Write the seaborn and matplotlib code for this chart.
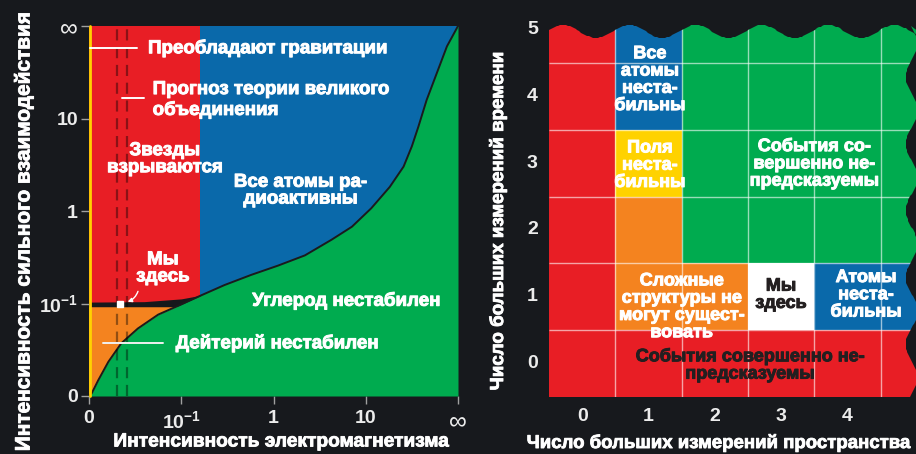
import numpy as np
import pandas as pd
import matplotlib
matplotlib.use('Agg')
import matplotlib.pyplot as plt
import matplotlib.patches as mpatches
import matplotlib.patheffects as pe
from matplotlib.path import Path
from matplotlib.colors import ListedColormap
import seaborn as sns

# colours
BG = '#17191d'
RED = '#e81e25'
BLUE = '#0a69aa'
GREEN = '#00ab4f'
ORANGE = '#f4831f'
YELLOW = '#ffd200'
WHITE = '#ffffff'
DARK = '#231f20'

# --- left panel data (axis positions 0..4 stand for 0, 0.1, 1, 10, inf)
em_labels = ['0', r'$\mathbf{10^{-1}}$', '1', '10', '∞']
strong_labels = ['0', r'$\mathbf{10^{-1}}$', '1', '10', '∞']
boundary_x = [0.0, 0.03, 0.10, 0.21, 0.35, 0.53, 0.75, 1.00, 1.22, 1.47, 1.76, 2.05, 2.34,
              2.63, 2.85, 3.06, 3.26, 3.41, 3.50, 3.57, 3.66, 3.77, 3.88, 4.0]
boundary_y = [0.0, 0.03, 0.17, 0.37, 0.57, 0.73, 0.88, 0.99, 1.09, 1.20, 1.31, 1.41, 1.52,
              1.69, 1.83, 2.03, 2.26, 2.48, 2.70, 2.91, 3.20, 3.49, 3.78, 4.0]
band_x = [0.0, 0.6, 1.0, 1.22]
band_top = [1.015, 1.02, 1.05, 1.09]
band_bottom = 0.965
red_x_max = 1.2
gut_lines = [0.30, 0.41]
us_point = (0.34, 0.99)

# --- right panel data
space_dims = [0, 1, 2, 3, 4, 5]
time_dims = [5, 4, 3, 2, 1, 0]
# 0 red, 1 blue, 2 green, 3 orange, 4 yellow, 5 white
regions = [
    [0, 1, 2, 2, 2, 2],
    [0, 1, 2, 2, 2, 2],
    [0, 4, 2, 2, 2, 2],
    [0, 3, 2, 2, 2, 2],
    [0, 3, 3, 5, 1, 1],
    [0, 0, 0, 0, 0, 0],
]

sns.set_theme(style='dark')
plt.rcParams['font.family'] = ['Liberation Sans', 'DejaVu Sans']
plt.rcParams['font.weight'] = 'bold'
plt.rcParams['mathtext.fontset'] = 'custom'
plt.rcParams['mathtext.bf'] = 'Liberation Sans:bold'
plt.rcParams['mathtext.rm'] = 'Liberation Sans:bold'

W, H = 916, 454
fig = plt.figure(figsize=(W / 100, H / 100), dpi=100, facecolor=BG)


def heavy(color, w=0.7):
    return [pe.withStroke(linewidth=w, foreground=color)]


# ================= left panel =================
ax1 = fig.add_axes([89 / W, 58 / H, 369 / W, 370 / H])
ax1.set_facecolor(BG)
ax1.set_xlim(0, 4)
ax1.set_ylim(0, 4)

ax1.add_patch(mpatches.Rectangle((0, 0), 4, 4, color=BLUE, lw=0))
ax1.add_patch(mpatches.Rectangle((0, 1.0), red_x_max, 3.0, color=RED, lw=0))
ax1.add_patch(mpatches.Rectangle((0, 0), 1.1, band_bottom, color=ORANGE, lw=0))
ax1.fill_between(band_x, band_bottom, band_top, color='#16181b', lw=0, zorder=1.5)
ax1.fill_between(boundary_x, 0, boundary_y, color=GREEN, lw=0, zorder=2)
sns.lineplot(x=boundary_x, y=boundary_y, sort=False, color='#1b1b1b', lw=1.4, ax=ax1, zorder=3)

for gx in gut_lines:
    ax1.plot([gx, gx], [0, 4], color='black', alpha=0.4, lw=1.6, ls=(0, (5, 3)), zorder=4)
ax1.plot([0.012, 0.012], [0, 4], color=YELLOW, lw=2, zorder=5, clip_on=False)

ax1.plot(*us_point, marker='s', ms=4, color=WHITE, zorder=6)
ax1.annotate('', xy=(us_point[0] + 0.05, us_point[1] + 0.02), xytext=(0.54, 1.16),
             arrowprops=dict(arrowstyle='-|>', color=WHITE, lw=1, mutation_scale=6,
                             connectionstyle='arc3,rad=-0.3'), zorder=6)

# leader lines
ax1.plot([0.01, 0.52], [3.76, 3.76], color=WHITE, lw=1.4, zorder=6)
ax1.plot([0.36, 0.60], [3.22, 3.22], color=WHITE, lw=1.4, zorder=6)
ax1.plot([0.15, 0.80], [0.57, 0.57], color='#f0f0f0', lw=1.4, zorder=6)

tkw = dict(color=WHITE, fontsize=13.5, fontweight='bold', zorder=7, path_effects=heavy(WHITE))
ax1.text(0.64, 3.76, 'Преобладают гравитации', ha='left', va='center', **tkw)
ax1.text(0.69, 3.2, 'Прогноз теории великого\nобъединения', ha='left', va='center', linespacing=1.2, **tkw)
ax1.text(0.82, 2.56, 'Звезды\nвзрываются', ha='center', va='center', linespacing=1.0, **tkw)
ax1.text(2.29, 2.22, 'Все атомы ра-\nдиоактивны', ha='center', va='center', linespacing=0.98, **tkw)
ax1.text(0.80, 1.38, 'Мы\nздесь', ha='center', va='center', linespacing=1.0, **tkw)
ax1.text(1.77, 1.03, 'Углерод нестабилен', ha='left', va='center', **tkw)
ax1.text(0.94, 0.57, 'Дейтерий нестабилен', ha='left', va='center', **tkw)

ax1.set_xticks(range(5))
ax1.set_xticklabels(em_labels)
ax1.set_yticks(range(5))
ax1.set_yticklabels(strong_labels)
ax1.tick_params(axis='both', length=6, width=1, color='#a0a0a0', labelcolor='#ececec',
                labelsize=14, pad=2, bottom=True, left=True)
ax1.tick_params(axis='x', pad=4)
for lab in (ax1.get_yticklabels()[-1], ax1.get_xticklabels()[-1]):
    lab.set_fontsize(18)
    lab.set_fontweight('normal')
for s in ax1.spines.values():
    s.set_visible(False)
ax1.grid(False)

# ================= right panel =================
ax2 = fig.add_axes([549 / W, 57 / H, 367 / W, 372 / H])
ax2.set_facecolor(BG)
grid = pd.DataFrame(regions, index=time_dims, columns=space_dims)
cmap = ListedColormap([RED, BLUE, GREEN, ORANGE, YELLOW, WHITE])
sns.heatmap(grid, cmap=cmap, vmin=-0.5, vmax=5.5, cbar=False, ax=ax2, linewidths=0)
ax2.set_xlim(0, 367 / 66.3)
ax2.set_ylim(6, 6 - 372 / 66.8)

# wavy top and right edges of the table
xs = np.linspace(0, 5.7, 200)
top = 0.528 - 0.097 * np.cos(2 * np.pi * (xs - 0.211))
ys = np.linspace(0.45, 6.2, 200)
right = 5.47 - 0.09 * np.cos(2 * np.pi * (ys - 1.21))
verts = [(0, 6.2)] + list(zip(xs, top)) + list(zip(right, ys)) + [(0, 6.2)]
clip = mpatches.PathPatch(Path(verts), transform=ax2.transData, fc='none', ec='none')
ax2.collections[0].set_clip_path(clip)

hl = ax2.hlines([1, 2, 3, 4, 5], 0, 6, colors=WHITE, alpha=0.6, lw=1)
vl = ax2.vlines([1, 2, 3, 4, 5], 0.3, 6, colors=WHITE, alpha=0.6, lw=1)
hl.set_clip_path(clip)
vl.set_clip_path(clip)
ax2.add_patch(mpatches.Rectangle((1.02, 5.02), 3.96, 0.86, color=RED, lw=0))
ax2.add_patch(mpatches.Rectangle((1.02, 4.02), 1.96, 0.96, color=ORANGE, lw=0))

rkw = dict(fontsize=13, fontweight='bold', ha='center', va='center', linespacing=1.02)
ax2.text(1.52, 1.25, 'Все\nатомы\nнеста-\nбильны', color=WHITE, path_effects=heavy(WHITE), **rkw)
ax2.text(1.52, 2.53, 'Поля\nнеста-\nбильны', color=WHITE, path_effects=heavy(WHITE), **rkw)
ax2.text(4.0, 2.51, 'События со-\nвершенно не-\nпредсказуемы', color=WHITE, path_effects=heavy(WHITE), **rkw)
ax2.text(2.0, 4.65, 'Сложные\nструктуры не\nмогут сущест-\nвовать', color=WHITE, path_effects=heavy(WHITE), **rkw)
ax2.text(3.5, 4.47, 'Мы\nздесь', color=DARK, path_effects=heavy(DARK), **rkw)
ax2.text(4.78, 4.47, 'Атомы\nнеста-\nбильны', color=WHITE, path_effects=heavy(WHITE), **rkw)
ax2.text(3.03, 5.52, 'События совершенно не-\nпредсказуемы', color=DARK, path_effects=heavy(DARK), **rkw)

ax2.set_xticks([c + 0.5 for c in space_dims[:5]])
ax2.set_xticklabels([str(c) for c in space_dims[:5]], rotation=0)
ax2.set_yticks([5.5 - t for t in time_dims])
ax2.set_yticklabels([str(t) for t in time_dims], rotation=0)
ax2.tick_params(axis='both', length=0, labelcolor='#ececec', labelsize=14, pad=8)
ax2.set_xlabel('')
ax2.set_ylabel('')
for s in ax2.spines.values():
    s.set_visible(False)

# axis titles
lkw = dict(ha='center', va='center', color=WHITE, fontweight='bold', path_effects=heavy(WHITE, 0.6))
fig.text(24 / W, 1 - 230 / H, 'Интенсивность сильного взаимодействия', rotation=90, fontsize=15, **lkw)
fig.text(281 / W, 1 - 442 / H, 'Интенсивность электромагнетизма', fontsize=13.8, **lkw)
fig.text(498 / W, 1 - 222 / H, 'Число больших измерений времени', rotation=90, fontsize=13.5, **lkw)
fig.text(718 / W, 1 - 443 / H, 'Число больших измерений пространства', fontsize=13.4, **lkw)

fig.savefig('out.png', dpi=100, facecolor=BG)
